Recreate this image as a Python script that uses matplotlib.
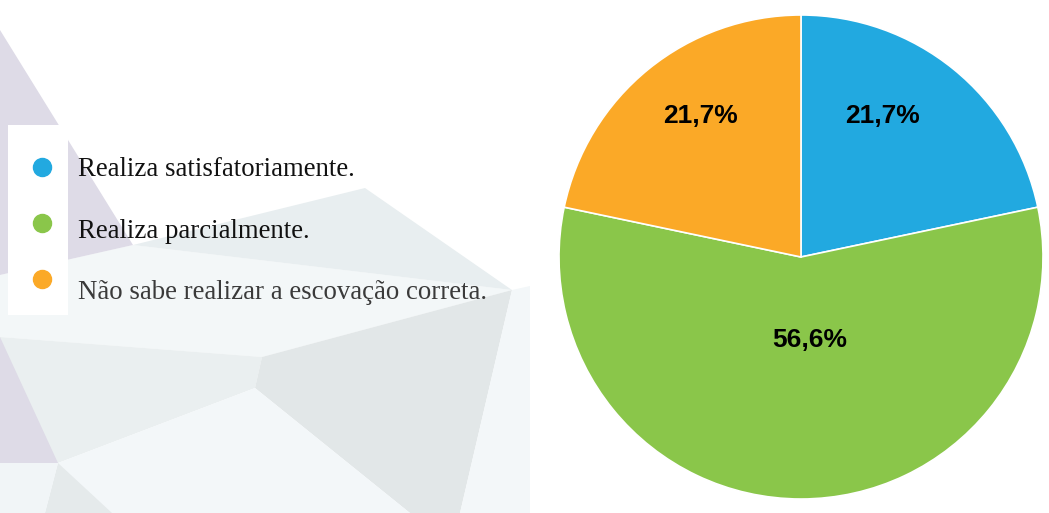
import matplotlib.pyplot as plt
from matplotlib.patches import Polygon, Rectangle
import numpy as np

# dados
categorias = ["Realiza satisfatoriamente.",
              "Realiza parcialmente.",
              "Não sabe realizar a escovação correta."]
valores = [21.7, 56.6, 21.7]
rotulos = ["21,7%", "56,6%", "21,7%"]
cores = ["#22a9e0", "#8ac64a", "#fba927"]
cores_texto = ["#111111", "#111111", "#3a3a3a"]

W, H = 1049, 513
fig = plt.figure(figsize=(W / 100, H / 100), dpi=100)
fig.patch.set_facecolor("white")

# fundo decorativo (poligonos claros a esquerda), em pixels
fundo = [
    ([(0, 275), (133, 245), (512, 290), (262, 357), (0, 337)], "#f3f7f8"),
    ([(133, 245), (365, 188), (512, 290)], "#e8eef0"),
    ([(0, 337), (262, 357), (255, 388), (58, 463), (0, 463)], "#eaeff0"),
    ([(262, 357), (512, 290), (460, 513), (410, 513), (255, 388)], "#e2e7e8"),
    ([(58, 463), (255, 388), (410, 513), (45, 513)], "#f3f7f9"),
    ([(512, 290), (530, 286), (530, 513), (460, 513)], "#f3f7f9"),
    ([(58, 463), (45, 513), (112, 513)], "#e5eaeb"),
    ([(0, 463), (58, 463), (45, 513), (0, 513)], "#f1f5f7"),
    ([(0, 30), (133, 245), (0, 275)], "#dedbe7"),
    ([(0, 337), (58, 463), (0, 463)], "#dedbe7"),
]
for pts, c in fundo:
    fig.patches.append(Polygon([(x / W, 1 - y / H) for x, y in pts], closed=True,
                               transform=fig.transFigure, facecolor=c,
                               edgecolor="none", zorder=0))
fig.patches.append(Rectangle((8 / W, 1 - 315 / H), 60 / W, 190 / H,
                             transform=fig.transFigure, facecolor="white",
                             edgecolor="none", zorder=1))

# pizza
cx, cy, r = 801, 257, 242
ax = fig.add_axes([(cx - r) / W, 1 - (cy + r) / H, 2 * r / W, 2 * r / H])
wedges, _ = ax.pie(valores, colors=cores, startangle=90, counterclock=False,
                   wedgeprops=dict(edgecolor="white", linewidth=1.2))
# distancia do centro e desvio angular de cada rotulo
dist = [0.68, 0.335, 0.725]
desvio = [9.5, 6, -4]
for w, lab, d, dv in zip(wedges, rotulos, dist, desvio):
    ang = np.deg2rad((w.theta1 + w.theta2) / 2 + dv)
    ax.text(d * np.cos(ang), d * np.sin(ang), lab, ha="center",
            va="center_baseline", fontsize=19, fontweight="bold",
            family="Liberation Sans", color="black")
ax.set_xlim(-1.0, 1.0)
ax.set_ylim(-1.0, 1.0)
ax.axis("off")

# legenda
for i, (cat, c, tc) in enumerate(zip(categorias, cores, cores_texto)):
    y = 166.5 + i * 56
    fig.add_artist(plt.Line2D([42 / W], [1 - y / H], marker="o", markersize=13,
                              color=c, linestyle="none", transform=fig.transFigure,
                              zorder=3))
    fig.text(78 / W, 1 - (176 + i * 61.5) / H, cat, ha="left", va="baseline",
             fontsize=19.3, family="Liberation Serif", color=tc, zorder=3)

fig.savefig("out.png", dpi=100)
